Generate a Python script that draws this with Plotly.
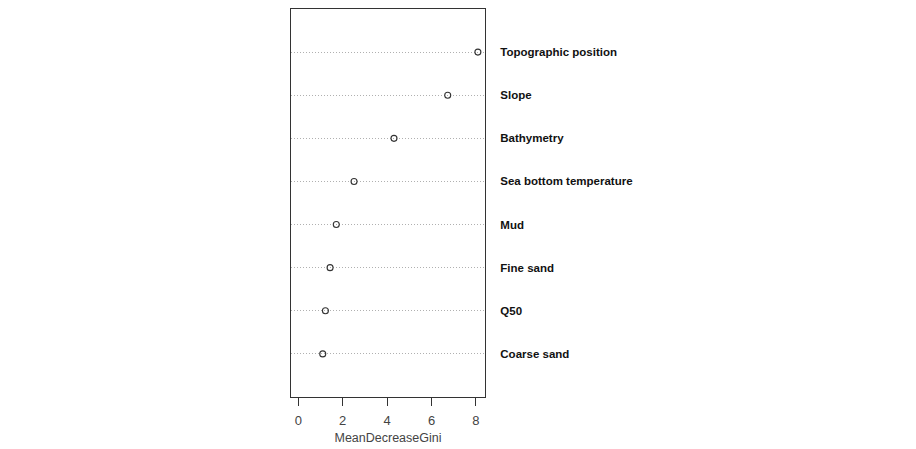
import plotly.graph_objects as go

variables = ["Coarse sand", "Q50", "Fine sand", "Mud", "Sea bottom temperature",
             "Bathymetry", "Slope", "Topographic position"]
mean_decrease_gini = [1.10, 1.22, 1.43, 1.71, 2.51, 4.31, 6.73, 8.09]
x_ticks = [0, 2, 4, 6, 8]

fig = go.Figure(go.Scatter(
    x=mean_decrease_gini, y=variables, mode="markers",
    marker=dict(symbol="circle-open", size=6, color="#333333", line=dict(width=1.1)),
    hoverinfo="x+y", showlegend=False,
))

# page body adds an 8px offset; margins compensate for it
fig.update_layout(
    width=916, height=449,
    margin=dict(l=283, r=439, t=1, b=60, autoexpand=False),
    paper_bgcolor="white", plot_bgcolor="white",
    font=dict(family="Liberation Sans, Arial, sans-serif", color="#222222"),
)
fig.update_xaxes(
    range=[-0.33, 8.41], tickvals=x_ticks, ticks="outside", ticklen=8, tickcolor="#333333",
    ticklabelstandoff=3,
    showgrid=False, zeroline=False, showline=True, mirror=True, linecolor="#333333", linewidth=1,
    tickfont=dict(size=13, color="#444444"), automargin=False,
    title=dict(text="MeanDecreaseGini", font=dict(size=12.5, color="#444444"), standoff=6),
)
fig.update_yaxes(
    type="category", categoryorder="array", categoryarray=variables, range=[-1, 8],
    side="right", ticks="", ticklabelstandoff=12, automargin=False,
    tickvals=variables, ticktext=["<b>%s</b>" % v for v in variables],
    tickfont=dict(size=11.5, color="#111111"),
    showgrid=True, gridcolor="#b0b0b0", griddash="1px,2px", gridwidth=1,
    zeroline=False, showline=True, mirror=True, linecolor="#333333", linewidth=1,
)

fig.write_html("out.html")
